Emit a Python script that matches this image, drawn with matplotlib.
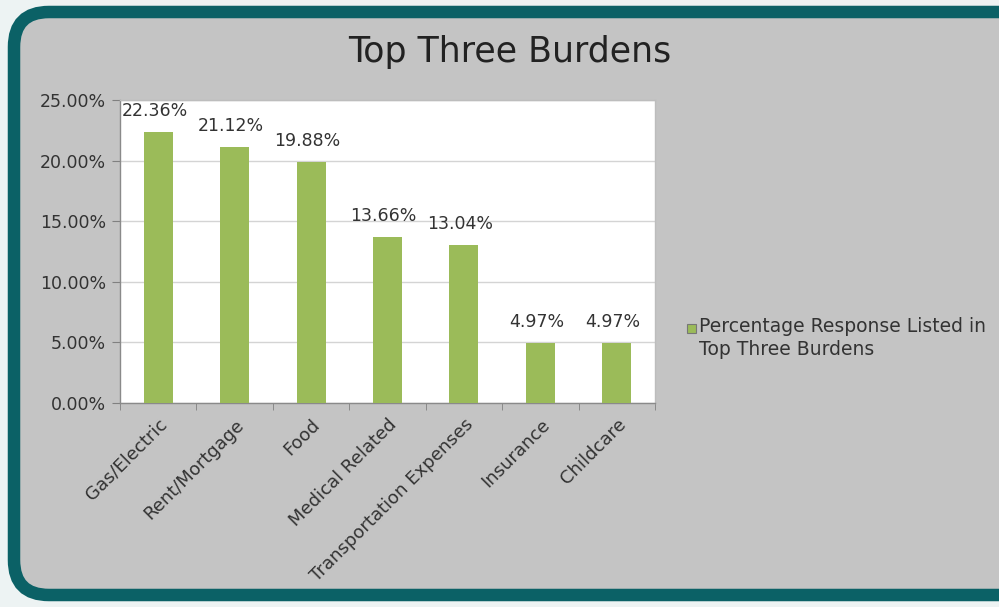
import matplotlib.pyplot as plt
from matplotlib.patches import FancyBboxPatch, Rectangle
from matplotlib.ticker import FuncFormatter

# data
categories = ["Gas/Electric", "Rent/Mortgage", "Food", "Medical Related",
              "Transportation Expenses", "Insurance", "Childcare"]
values = [22.36, 21.12, 19.88, 13.66, 13.04, 4.97, 4.97]
value_labels = ["22.36%", "21.12%", "19.88%", "13.66%", "13.04%", "4.97%", "4.97%"]
yticks = [0, 5, 10, 15, 20, 25]
series_name = "Percentage Response Listed in\nTop Three Burdens"

plt.rcParams['font.family'] = ['DejaVu Sans']
txt = '#333333'
green = '#9bbb59'

fig = plt.figure(figsize=(9.99, 6.07), dpi=100)
fig.patch.set_facecolor('#edf3f3')

# teal rounded frame with grey inside
frame = FancyBboxPatch((14 / 999, 12 / 607), 1.2, 1 - 24 / 607,
                       boxstyle="round,pad=0,rounding_size=0.035",
                       transform=fig.transFigure, facecolor='#c4c4c4',
                       edgecolor='#0b6166', linewidth=9, mutation_aspect=999 / 607,
                       zorder=-10)
fig.patches.append(frame)

ax = fig.add_axes([120 / 999, 1 - 403 / 607, 535 / 999, 303 / 607])
ax.set_zorder(5)
ax.set_facecolor('white')

x = range(len(categories))
bars = ax.bar(x, values, width=0.38, color=green, zorder=3)

for xi, v, lab in zip(x, values, value_labels):
    ax.text(xi - 0.05, v + 1.0, lab, ha='center', va='bottom', fontsize=12.5,
            color=txt, zorder=4)

ax.set_xlim(-0.5, len(categories) - 0.5)
ax.set_ylim(0, 25)
ax.set_yticks(yticks)
ax.yaxis.set_major_formatter(FuncFormatter(lambda v, p: f"{v:.2f}%"))
ax.grid(axis='y', color='#d4d4d4', linewidth=1, zorder=0)
ax.tick_params(axis='y', labelsize=12.5, labelcolor=txt, colors='#808080',
               length=6, direction='out', pad=4)

ax.set_xticks([i - 0.5 for i in range(len(categories) + 1)], minor=True)
ax.set_xticks(list(x))
ax.set_xticklabels(categories, rotation=45, ha='right', rotation_mode='anchor',
                   fontsize=13, color=txt)
ax.tick_params(axis='x', which='major', length=0, pad=9)
ax.tick_params(axis='x', which='minor', length=5, color='#808080')

for s in ax.spines.values():
    s.set_color('#8a8a8a')
    s.set_linewidth(1)
ax.spines['top'].set_color('#bdbdbd')
ax.spines['right'].set_color('#bdbdbd')

fig.text(510 / 999, 1 - 52 / 607, "Top Three Burdens", ha='center', va='center',
         fontsize=25, color='#222222')

# legend
fig.patches.append(Rectangle((687 / 999, 1 - 333 / 607), 9 / 999, 9 / 607,
                             transform=fig.transFigure, facecolor=green,
                             edgecolor='#777777', linewidth=0.8))
fig.text(699 / 999, 1 - 317 / 607, series_name, ha='left', va='top',
         fontsize=13.5, color=txt, linespacing=1.3)

fig.savefig("out.png", dpi=100, facecolor=fig.get_facecolor())
